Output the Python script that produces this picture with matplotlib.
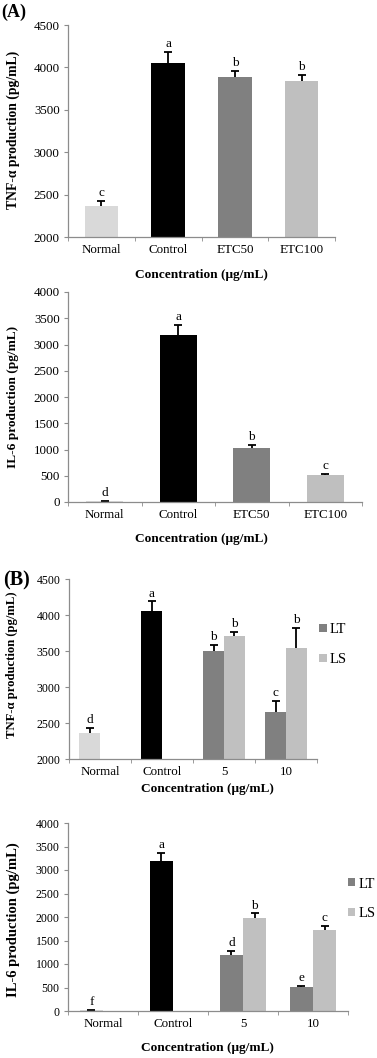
import numpy as np
import matplotlib
matplotlib.use("Agg")
import matplotlib.pyplot as plt
from matplotlib.patches import Patch

plt.rcParams['font.family'] = ['Liberation Serif', 'DejaVu Serif']

# ---------------- data ----------------
a_categories = ["Normal", "Control", "ETC50", "ETC100"]
a_tnf_values = [2362, 4055, 3884, 3841]
a_tnf_errors = [66, 131, 70, 66]
a_tnf_letters = ["c", "a", "b", "b"]

a_il6_values = [15, 3190, 1025, 513]
a_il6_errors = [8, 175, 70, 17]
a_il6_letters = ["d", "a", "b", "c"]

b_categories = ["Normal", "Control", "5", "10"]
b_tnf_lt = [2367, 4054, 3496, 2655]
b_tnf_lt_err = [70, 135, 93, 149]
b_tnf_lt_letters = ["d", "a", "b", "c"]
b_tnf_ls = [np.nan, np.nan, 3710, 3538]
b_tnf_ls_err = [0, 0, 60, 279]
b_tnf_ls_letters = ["", "", "b", "b"]

b_il6_lt = [15, 3195, 1202, 519]
b_il6_lt_err = [8, 168, 85, 21]
b_il6_lt_letters = ["f", "a", "d", "e"]
b_il6_ls = [np.nan, np.nan, 1970, 1714]
b_il6_ls_err = [0, 0, 107, 100]
b_il6_ls_letters = ["", "", "b", "c"]

a_colors = ["#d9d9d9", "#000000", "#808080", "#bfbfbf"]
lt_colors = ["#d9d9d9", "#000000", "#808080", "#808080"]
ls_color = "#c0c0c0"
series_names = ["LT", "LS"]

W, H = 377, 1058
fig = plt.figure(figsize=(W / 100, H / 100), dpi=100)


def rect(l, r, t, b):
    return [l / W, 1 - b / H, (r - l) / W, (b - t) / H]


SPINE = "#8c8c8c"
EKW = dict(elinewidth=1.3, capthick=1.3, ecolor='black')
CAP = 3.0


def hide_lower_caps(container):
    eb = container.errorbar
    if eb is not None:
        caps = eb.lines[1]
        if len(caps) >= 1:
            caps[0].set_visible(False)


def style(ax, ymin, ymax, step, ncat, labels, ytick_fs, xtick_fs):
    ax.set_ylim(ymin, ymax)
    ax.set_yticks(np.arange(ymin, ymax + 1, step))
    ax.set_xlim(-0.5, ncat - 0.5)
    ax.set_xticks(np.arange(ncat))
    ax.set_xticklabels(labels, fontsize=xtick_fs)
    ax.set_xticks(np.arange(ncat + 1) - 0.5, minor=True)
    ax.tick_params(axis='x', which='major', length=0, pad=5)
    ax.tick_params(axis='x', which='minor', length=3, color=SPINE, direction='out')
    ax.tick_params(axis='y', length=3, color=SPINE, direction='out', labelsize=ytick_fs, pad=3)
    for s in ['top', 'right']:
        ax.spines[s].set_visible(False)
    for s in ['left', 'bottom']:
        ax.spines[s].set_color(SPINE)
        ax.spines[s].set_linewidth(0.9)


def letters(ax, xs, tops, labs, fs):
    for x, t, l in zip(xs, tops, labs):
        if l and not np.isnan(t):
            ax.annotate(l, (x, t), xytext=(0, 3.5), textcoords='offset points',
                        ha='center', va='baseline', fontsize=fs)


def single_panel(ax, vals, errs, labs, ymin, ymax, step):
    x = np.arange(len(a_categories))
    c = ax.bar(x, np.array(vals) - ymin, bottom=ymin, width=0.5, color=a_colors,
               yerr=[np.zeros(len(errs)), errs], capsize=CAP, error_kw=EKW)
    hide_lower_caps(c)
    letters(ax, x, np.array(vals) + np.array(errs), labs, 9.5)
    style(ax, ymin, ymax, step, len(a_categories), a_categories, 9.4, 9.4)


def group_panel(ax, lt, lte, ltl, ls, lse, lsl, ymin, ymax, step):
    x = np.arange(len(b_categories))
    w = 0.333
    lt = np.array(lt, dtype=float)
    ls = np.array(ls, dtype=float)
    c1 = ax.bar(x - w / 2, lt - ymin, bottom=ymin, width=w, color=lt_colors,
                yerr=[np.zeros(len(lte)), lte], capsize=CAP, error_kw=EKW)
    hide_lower_caps(c1)
    mask = ~np.isnan(ls)
    c2 = ax.bar((x + w / 2)[mask], ls[mask] - ymin, bottom=ymin, width=w, color=ls_color,
                yerr=[np.zeros(mask.sum()), np.array(lse)[mask]], capsize=CAP, error_kw=EKW)
    hide_lower_caps(c2)
    letters(ax, x - w / 2, lt + np.array(lte), ltl, 9.5)
    letters(ax, x + w / 2, ls + np.array(lse), lsl, 9.5)
    style(ax, ymin, ymax, step, len(b_categories), b_categories, 8.6, 9.4)


def place_ylabel(ax, text, fs, px_x, px_y):
    ax.set_ylabel(text, fontweight='bold', fontsize=fs)
    inv = ax.transAxes.inverted()
    disp = fig.transFigure.transform((px_x / W, 1 - px_y / H))
    ax_xy = inv.transform(disp)
    ax.yaxis.set_label_coords(ax_xy[0], ax_xy[1])
    ax.yaxis.label.set_va('center')


bold = dict(fontweight='bold', fontsize=9.6)

# Panel A - TNF
ax1 = fig.add_axes(rect(68, 335, 25, 237))
single_panel(ax1, a_tnf_values, a_tnf_errors, a_tnf_letters, 2000, 4500, 500)
place_ylabel(ax1, "TNF-α production (pg/mL)", 9.8, 13, 130)
fig.text(201 / W, 1 - 275 / H, "Concentration (μg/mL)", ha='center', va='center', **bold)
fig.text(1 / W, 1 - 12 / H, "(A)", ha='left', va='center', fontweight='bold', fontsize=13)

# Panel A - IL-6
ax2 = fig.add_axes(rect(68, 362, 292, 502))
single_panel(ax2, a_il6_values, a_il6_errors, a_il6_letters, 0, 4000, 500)
place_ylabel(ax2, "IL-6 production (pg/mL)", 9.6, 13, 397)
fig.text(201 / W, 1 - 539 / H, "Concentration (μg/mL)", ha='center', va='center', **bold)

# Panel B - TNF
ax3 = fig.add_axes(rect(69, 317, 579, 759))
group_panel(ax3, b_tnf_lt, b_tnf_lt_err, b_tnf_lt_letters,
            b_tnf_ls, b_tnf_ls_err, b_tnf_ls_letters, 2000, 4500, 500)
place_ylabel(ax3, "TNF-α production (pg/mL)", 9.1, 12, 665)
fig.text(207 / W, 1 - 789 / H, "Concentration (μg/mL)", ha='center', va='center', **bold)
fig.text(3 / W, 1 - 580 / H, "(B)", ha='left', va='center', fontweight='bold', fontsize=14.5)

# Panel B - IL-6
ax4 = fig.add_axes(rect(68, 348, 823, 1011))
group_panel(ax4, b_il6_lt, b_il6_lt_err, b_il6_lt_letters,
            b_il6_ls, b_il6_ls_err, b_il6_ls_letters, 0, 4000, 500)
place_ylabel(ax4, "IL-6 production (pg/mL)", 10.5, 13, 920)
fig.text(207 / W, 1 - 1048 / H, "Concentration (μg/mL)", ha='center', va='center', **bold)

handles = [Patch(facecolor="#808080", edgecolor='none'), Patch(facecolor=ls_color, edgecolor='none')]
for ax, bx, by in [(ax3, 1.01, 0.755), (ax4, 1.0, 0.71)]:
    ax.legend(handles, series_names, loc='upper left', bbox_to_anchor=(bx, by),
              frameon=False, fontsize=10.5, handlelength=0.5, handleheight=0.5,
              handletextpad=0.2, labelspacing=1.15, borderpad=0, borderaxespad=0)

fig.savefig("out.png", dpi=100)
